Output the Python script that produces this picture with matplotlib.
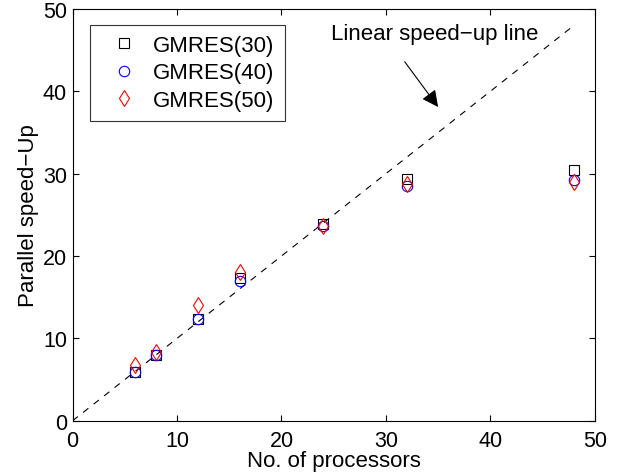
import numpy as np
import matplotlib.pyplot as plt

plt.rcParams['font.family'] = ['Liberation Sans', 'DejaVu Sans']

# number of processors
procs = [6, 8, 12, 16, 24, 32, 48]

# parallel speed-up
gmres30 = [5.9, 8.0, 12.3, 17.3, 23.9, 29.3, 30.5]
gmres40 = [5.9, 8.0, 12.3, 17.0, 23.6, 28.5, 29.2]
gmres50 = [6.8, 8.3, 14.0, 18.0, 23.7, 28.7, 29.0]

ideal = [0, 48]

fig = plt.figure(figsize=(6.32, 4.77), dpi=100)
ax = fig.add_axes([0.115, 0.116, 0.826, 0.863])

ax.plot(ideal, ideal, 'k--', lw=0.8, dashes=(6, 6))
ax.plot(procs, gmres30, 'ks', mfc='none', ms=6.5, mew=0.8, label='GMRES(30)')
ax.plot(procs, gmres40, 'bo', mfc='none', ms=7.5, mew=0.8, label='GMRES(40)')
ax.plot(procs, gmres50, 'rd', mfc='none', ms=8, mew=0.8, label='GMRES(50)')

# label and arrow pointing at the ideal line
ax.text(34.7, 47.0, 'Linear speed\u2212up line', ha='center', va='center',
        fontsize=16)
ax.annotate('', xy=(35.0, 38.1), xytext=(31.8, 43.6),
            arrowprops=dict(arrowstyle='-|>', color='k', lw=0.8,
                            mutation_scale=25, shrinkA=0, shrinkB=0))

ax.set_xlim(0, 50)
ax.set_ylim(0, 50)
ax.set_xticks(np.arange(0, 51, 10))
ax.set_yticks(np.arange(0, 51, 10))
ax.tick_params(direction='in', top=True, right=True, labelsize=15.5,
               length=4.5)
ax.tick_params(axis='x', pad=7)
ax.tick_params(axis='y', pad=4)
ax.set_xlabel('No. of processors', fontsize=16, labelpad=-1)
ax.set_ylabel('Parallel speed\u2212Up', fontsize=16, labelpad=3)

leg = ax.legend(loc='upper left', bbox_to_anchor=(0.033, 0.962), fontsize=16,
                frameon=True, fancybox=False, edgecolor='k', handlelength=2.2,
                borderpad=0.45, labelspacing=0.3, handletextpad=0.2,
                borderaxespad=0)
leg.get_frame().set_linewidth(0.8)

fig.savefig('out.png', dpi=100)
